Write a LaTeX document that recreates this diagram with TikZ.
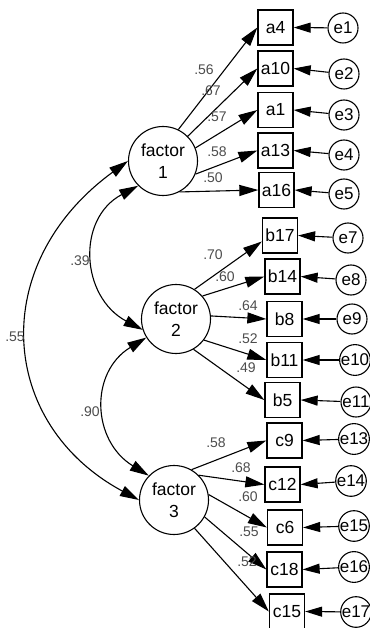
\documentclass[tikz,border=0pt]{standalone}
\usepackage{fontspec}
\setmainfont{Liberation Sans}
\usetikzlibrary{arrows.meta,calc}
\tikzset{
  obs/.style={draw,line width=1.3pt,minimum width=35pt,minimum height=35pt,inner sep=0pt,font=\fontsize{17.5}{20}\selectfont},
  lat/.style={draw,circle,line width=1.1pt,minimum size=69pt,inner sep=0pt,align=center,font=\fontsize{17.5}{22}\selectfont},
  err/.style={draw,circle,line width=1.1pt,minimum size=30pt,inner sep=0pt,font=\fontsize{17}{20}\selectfont},
  lab/.style={inner sep=0pt,text=black!70,font=\fontsize{14}{16}\selectfont},
  path/.style={line width=1.1pt,-{Triangle[length=19pt,width=11pt]}},
  epath/.style={line width=1.1pt,-{Triangle[length=17pt,width=10pt]}},
  cov/.style={line width=1.1pt,{Triangle[length=19pt,width=11pt]}-{Triangle[length=19pt,width=11pt]}}
}
\begin{document}
\begin{tikzpicture}[x=1pt,y=-1pt]
\useasboundingbox (0,0) rectangle (369,628);
% factors
\node[lat] (f1) at (163,161) {factor\\1};
\node[lat] (f2) at (176,319) {factor\\2};
\node[lat] (f3) at (174,500) {factor\\3};
% indicators
\node[obs] (a4)  at (275.5,27.5) {a4};
\node[obs] (a10) at (275.5,68.5) {a10};
\node[obs] (a1)  at (275.5,110) {a1};
\node[obs] (a13) at (275.5,150.5) {a13};
\node[obs] (a16) at (276.5,190) {a16};
\node[obs] (b17) at (280,235.5) {b17};
\node[obs] (b14) at (282.5,276.5) {b14};
\node[obs] (b8)  at (284.5,319) {b8};
\node[obs] (b11) at (284.5,360) {b11};
\node[obs] (b5)  at (282.5,400) {b5};
\node[obs] (c9)  at (284.5,440.5) {c9};
\node[obs] (c12) at (282.5,484.5) {c12};
\node[obs] (c6)  at (285,527.5) {c6};
\node[obs] (c18) at (284.5,569.5) {c18};
\node[obs] (c15) at (287,611.5) {c15};
% errors
\node[err] (e1)  at (343,28) {e1};
\node[err] (e2)  at (344,74) {e2};
\node[err] (e3)  at (344,115) {e3};
\node[err] (e4)  at (344,155) {e4};
\node[err] (e5)  at (344,194) {e5};
\node[err] (e7)  at (348,238) {e7};
\node[err] (e8)  at (351,280) {e8};
\node[err] (e9)  at (352,319) {e9};
\node[err] (e10) at (355,360) {e10};
\node[err] (e11) at (356,402) {e11};
\node[err] (e13) at (354,439) {e13};
\node[err] (e14) at (351,481) {e14};
\node[err] (e15) at (354,526) {e15};
\node[err] (e16) at (354,567) {e16};
\node[err] (e17) at (356,612) {e17};
% loadings factor 1
\draw[path] (f1.64) -- (a4.west);
\draw[path] (f1.45) -- (a10.west);
\draw[path] (f1.22) -- (a1.west);
\draw[path] (f1.-22) -- (a13.west);
\draw[path] (f1.-62) -- (a16.west);
% loadings factor 2
\draw[path] (f2.58) -- ($(b17.west)+(0,6)$);
\draw[path] (f2.41) -- (b14.west);
\draw[path] (f2.5) -- (b8.west);
\draw[path] (f2.-37) -- (b11.west);
\draw[path] (f2.-60) -- (b5.west);
% loadings factor 3
\draw[path] (f3.60) -- (c9.west);
\draw[path] (f3.45) -- (c12.west);
\draw[path] (f3.9) -- (c6.west);
\draw[path] (f3.-29) -- (c18.west);
\draw[path] (f3.-54) -- (c15.west);
% error paths
\foreach \e/\b in {e1/a4,e2/a10,e3/a1,e4/a13,e5/a16,e7/b17,e8/b14,e9/b8,e10/b11,e11/b5,e13/c9,e14/c12,e15/c6,e16/c18,e17/c15}
  \draw[epath] (\e) -- (\b.east);
% covariances
\draw[cov] (f1.180) .. controls +(-141,103) and +(-141,-76) .. (f3.180);
\draw[cov] (f1.225) .. controls +(-62,33) and +(-62,-33) .. (f2.198);
\draw[cov] (f2.212) .. controls +(-57,35) and +(-57,-35) .. (f3.136);
% labels
\node[lab] (l1) at (204,70) {.56};
\node[lab] (l2) at (211,91) {.67};
\node[lab] (l3) at (217,117) {.57};
\node[lab] (l4) at (217,152) {.58};
\node[lab] (l5) at (213,178) {.50};
\node[lab] (l6) at (213,255) {.70};
\node[lab] (l7) at (225,277) {.60};
\node[lab] (l8) at (248,306) {.64};
\node[lab] (l9) at (248,339) {.52};
\node[lab] (l10) at (246,368) {.49};
\node[lab] (l11) at (216,443) {.58};
\node[lab] (l12) at (241,468) {.68};
\node[lab] (l13) at (248,497) {.60};
\node[lab] (l14) at (249,532) {.55};
\node[lab] (l15) at (247,562) {.52};
\node[lab] (l16) at (80,261) {.39};
\node[lab] (l17) at (15,337) {.55};
\node[lab] (l18) at (90,412) {.90};
\end{tikzpicture}
\end{document}
